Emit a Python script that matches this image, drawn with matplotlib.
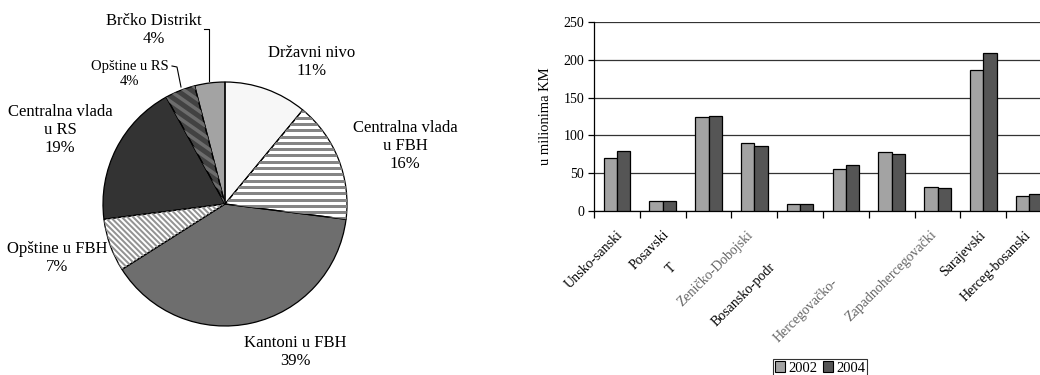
import numpy as np
import matplotlib
matplotlib.use("Agg")
import matplotlib.pyplot as plt
import matplotlib.transforms as mtransforms
from matplotlib.patches import Patch

plt.rcParams['font.family'] = ['Liberation Serif', 'DejaVu Serif']

# --- struktura rashoda po nivoima vlasti (%)
levels = ["Državni nivo", "Centralna vlada\nu FBH", "Kantoni u FBH", "Opštine u FBH",
          "Centralna vlada\nu RS", "Opštine u RS", "Brčko Distrikt"]
shares = [11, 16, 39, 7, 19, 4, 4]

# --- rashodi kantona, u milionima KM
cantons = ["Unsko-sanski", "Posavski", "T", "Zeničko-Dobojski", "Bosansko-podr",
           "Hercegovačko-", "", "Zapadnohercegovački", "Sarajevski", "Herceg-bosanski"]
years = ["2002", "2004"]
exp_2002 = [70, 13, 124, 90, 9.5, 55, 78, 32, 187, 20]
exp_2004 = [79, 13, 126, 86, 9.2, 61, 76, 30.5, 209, 22.5]

W, H = 1040, 375
fig = plt.figure(figsize=(W / 100, H / 100), dpi=100)

# ---------------- pita ----------------
R = 122.0           # poluprecnik u pikselima
cx, cy = 225, 204   # centar u pikselima (od gore lijevo)
ax1 = fig.add_axes([0, 0, 450 / W, 1])
face = ['#f7f7f7', '#ffffff', '#6e6e6e', '#ffffff', '#333333', '#424242', '#a3a3a3']
# pruge: (ugao u stepenima, razmak u px, debljina u px, boja)
stripes = [None, (0, 6.3, 3.0, '#858585'), None, (-45, 4.0, 2.0, '#939393'),
           None, (-35, 8.5, 3.5, '#6c6c6c'), None]

wedges, _ = ax1.pie(shares, colors=face, startangle=90, counterclock=False,
                    wedgeprops=dict(linewidth=0))
for w, st in zip(wedges, stripes):
    if st is None:
        continue
    ang, gap, lw, col = st
    a = np.deg2rad(ang)
    d = np.array([np.cos(a), np.sin(a)])       # smjer pruge
    n = np.array([-np.sin(a), np.cos(a)])      # normala
    for k in np.arange(-1.1, 1.1, gap / R):
        p0 = k * n - 1.5 * d
        p1 = k * n + 1.5 * d
        ln, = ax1.plot([p0[0], p1[0]], [p0[1], p1[1]], color=col,
                       lw=lw * 0.72, solid_capstyle='butt')
        ln.set_clip_path(w)
# obrisi kriski
ax1.pie(shares, startangle=90, counterclock=False,
        wedgeprops=dict(fill=False, edgecolor='black', linewidth=0.9))
ax1.set_aspect('auto')
ax1.set_xlim(-cx / R, (450 - cx) / R)
ax1.set_ylim((cy - H) / R, cy / R)
ax1.axis('off')


def px(x, y):
    return (x - cx) / R, (cy - y) / R


label_pos = [(312, 62), (405, 146), (295, 352), (57, 258), (60, 130), (130, 74), (154, 30)]
for name, s, (lx, ly) in zip(levels, shares, label_pos):
    fs = 10.5 if name == "Opštine u RS" else 12
    ax1.text(*px(lx, ly), f"{name}\n{s}%", ha='center', va='center',
             fontsize=fs, linespacing=1.15)

# linije za male kriske
for pts in ([(204, 29), (209, 29), (209, 81)], [(172, 66), (177, 67), (181, 87)]):
    xs, ys = zip(*[px(*p) for p in pts])
    ax1.plot(xs, ys, color='black', lw=0.8)

# ---------------- stubici ----------------
ax2 = fig.add_axes([594 / W, (H - 211) / H, 458 / W, 189 / H])
x = np.arange(len(cantons))
bw = 0.29
ax2.bar(x - bw / 2, exp_2002, bw, color='#a3a3a3', edgecolor='black', linewidth=0.9,
        label=years[0], zorder=3)
ax2.bar(x + bw / 2, exp_2004, bw, color='#555555', edgecolor='black', linewidth=0.9,
        label=years[1], zorder=3)
ax2.set_xlim(-0.5, len(cantons) - 0.5)
ax2.set_ylim(0, 250)
ax2.set_yticks(np.arange(0, 251, 50))
ax2.yaxis.grid(True, color='#333333', lw=0.9)
ax2.set_axisbelow(True)
ax2.set_xticks(x - 0.5)
ax2.set_xticklabels([])
ax2.tick_params(axis='x', direction='out', length=5, width=0.9)
ax2.tick_params(axis='y', direction='out', length=4, width=0.9, labelsize=10, pad=3)
for sp in ('top', 'right'):
    ax2.spines[sp].set_visible(False)
for sp in ('left', 'bottom'):
    ax2.spines[sp].set_linewidth(0.9)
ax2.set_ylabel("u milionima KM", fontsize=10.5, labelpad=8)

# natpisi kantona, neki pomaknuti nize
shift = [(4, 22), (4, 22), (-34, 55), (-3, 22), (-27, 54), (-10, 69), (0, 22), (-3, 22), (0, 22), (0, 22)]
faded = {3, 5, 7}
for i, (name, (dx, dy)) in enumerate(zip(cantons, shift)):
    tr = ax2.get_xaxis_transform() + mtransforms.ScaledTranslation(dx / 100, -dy / 100,
                                                                   fig.dpi_scale_trans)
    ax2.text(i, 0, name, transform=tr, rotation=45, rotation_mode='anchor',
             ha='right', va='center', fontsize=10,
             color='#666666' if i in faded else 'black', clip_on=False)

handles = [Patch(facecolor='#a3a3a3', edgecolor='black', lw=0.8),
           Patch(facecolor='#555555', edgecolor='black', lw=0.8)]
leg = fig.legend(handles, years, loc='center', bbox_to_anchor=(820 / W, 1 - 368 / H),
                 ncol=2, fontsize=10.5, frameon=True, fancybox=False, handlelength=0.7,
                 handleheight=0.7, handletextpad=0.2, columnspacing=0.4,
                 borderpad=0.15, borderaxespad=0)
leg.get_frame().set_edgecolor('black')
leg.get_frame().set_linewidth(0.8)

fig.savefig("out.png", dpi=100)
